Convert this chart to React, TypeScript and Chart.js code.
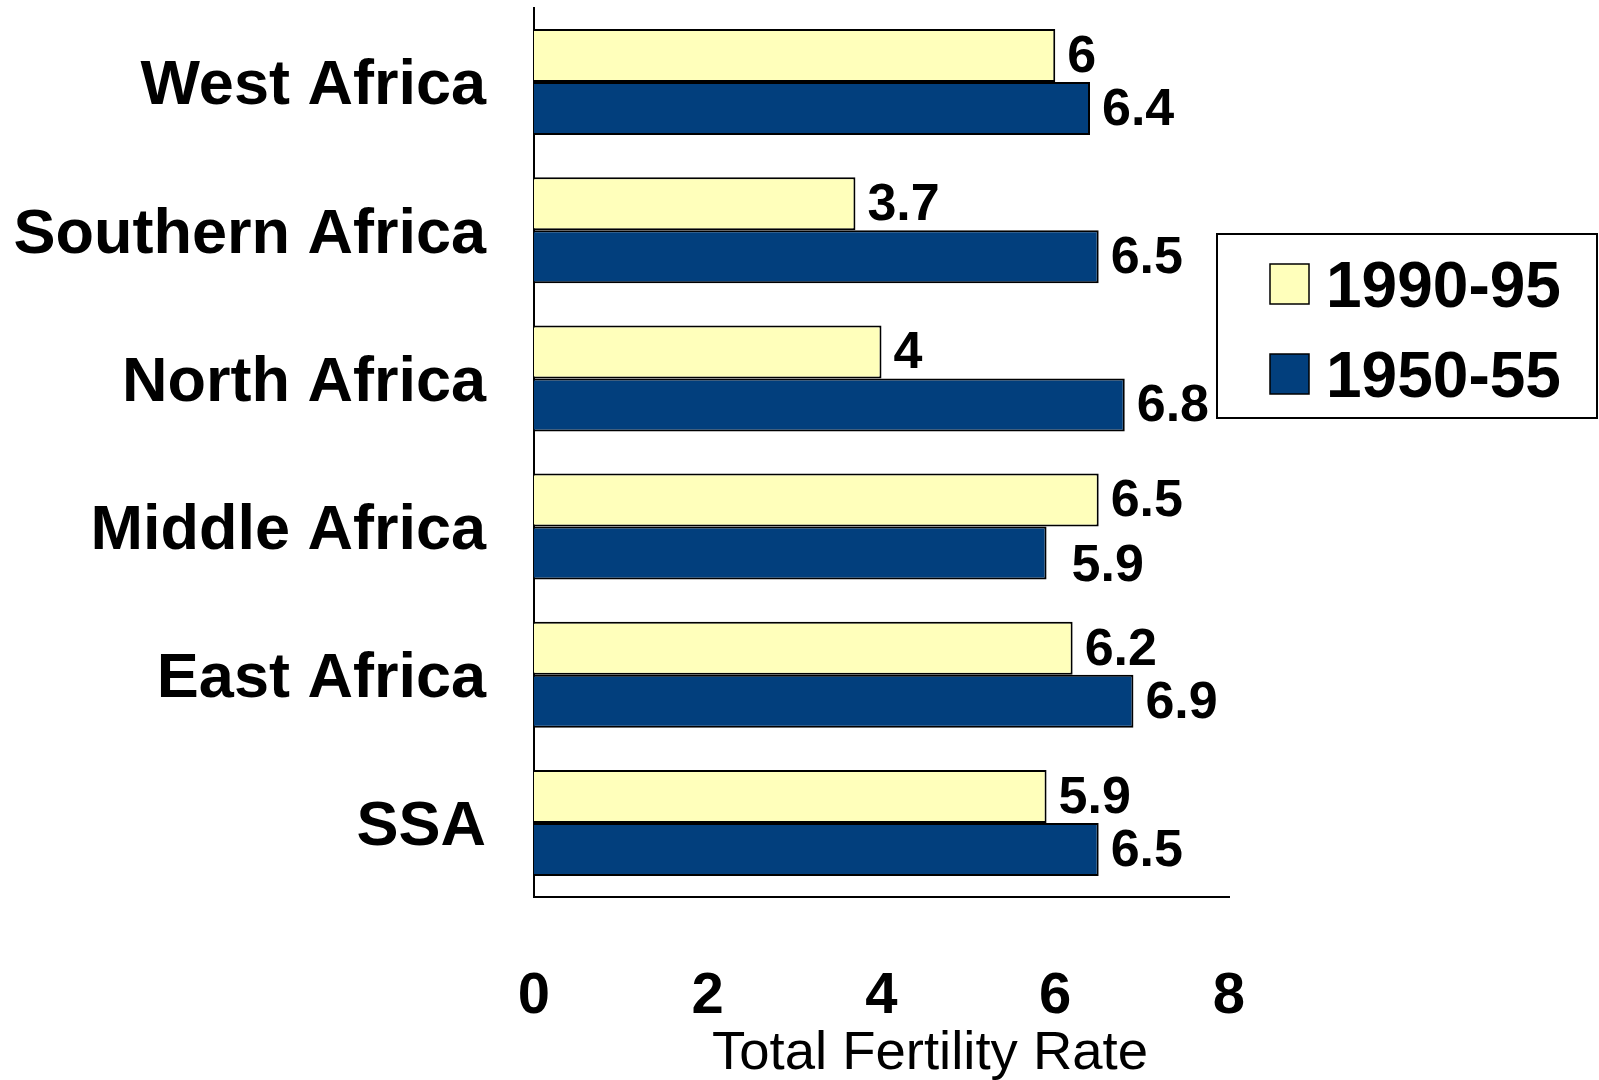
import React, { useEffect, useRef } from "react";
import { Chart, registerables } from "chart.js";

Chart.register(...registerables);

// ---- data ----
const regions = ["West Africa", "Southern Africa", "North Africa", "Middle Africa", "East Africa", "SSA"];
const tfr1990_95 = [6, 3.7, 4, 6.5, 6.2, 5.9];
const tfr1950_55 = [6.4, 6.5, 6.8, 5.9, 6.9, 6.5];
const seriesNames = ["1990-95", "1950-55"];
const xTickValues = [0, 2, 4, 6, 8];
const xTitle = "Total Fertility Rate";

// ---- styles ----
const FONT = "'Liberation Sans', Arial, Helvetica, sans-serif";
const YELLOW = "#FFFFBB";
const BLUE = "#023F7D";

const valueLabelPlugin = {
  id: "valueLabels",
  afterDatasetsDraw(chart: any) {
    const ctx = chart.ctx;
    const nudges: Record<string, [number, number]> = { "1-3": [13, 12] };
    ctx.save();
    ctx.font = `bold 52px ${FONT}`;
    ctx.fillStyle = "#000";
    ctx.textAlign = "left";
    ctx.textBaseline = "middle";
    chart.data.datasets.forEach((ds: any, di: number) => {
      const meta = chart.getDatasetMeta(di);
      meta.data.forEach((bar: any, i: number) => {
        const n = nudges[`${di}-${i}`] || [0, 0];
        ctx.fillText(String(ds.data[i]), bar.x + 12 + n[0], bar.y + 2 + n[1]);
      });
    });
    ctx.restore();
  },
};

const extrasPlugin = {
  id: "extras",
  afterDraw(chart: any) {
    const ctx = chart.ctx;
    ctx.save();
    // x-axis title
    ctx.font = `54.5px ${FONT}`;
    ctx.fillStyle = "#000";
    ctx.textAlign = "center";
    ctx.textBaseline = "alphabetic";
    ctx.fillText(xTitle, 930, 1069);

    // legend box
    ctx.lineWidth = 2;
    ctx.strokeStyle = "#000";
    ctx.fillStyle = "#fff";
    ctx.fillRect(1217, 234, 380, 184);
    ctx.strokeRect(1217, 234, 380, 184);
    const rowsY = [284, 374];
    chart.data.datasets.forEach((ds: any, di: number) => {
      const cy = rowsY[di];
      ctx.fillStyle = ds.backgroundColor;
      ctx.fillRect(1270, cy - 20, 39, 40);
      ctx.lineWidth = 1.5;
      ctx.strokeStyle = "#000";
      ctx.strokeRect(1270, cy - 20, 39, 40);
      ctx.fillStyle = "#000";
      ctx.font = `bold 64px ${FONT}`;
      ctx.textAlign = "left";
      ctx.textBaseline = "alphabetic";
      ctx.fillText(ds.label, 1326, cy + 23);
    });
    ctx.restore();
  },
};

export default function App() {
  const ref = useRef<HTMLCanvasElement | null>(null);

  useEffect(() => {
    if (!ref.current) return;
    const chart = new Chart(ref.current, {
      type: "bar",
      data: {
        labels: regions,
        datasets: [
          {
            label: seriesNames[0],
            data: tfr1990_95,
            backgroundColor: YELLOW,
            borderColor: "#000",
            borderWidth: 2,
            categoryPercentage: 0.715,
            barPercentage: 1.0,
          },
          {
            label: seriesNames[1],
            data: tfr1950_55,
            backgroundColor: BLUE,
            borderColor: "#000",
            borderWidth: 2,
            categoryPercentage: 0.715,
            barPercentage: 1.0,
          },
        ],
      },
      options: {
        indexAxis: "y",
        animation: false,
        responsive: false,
        devicePixelRatio: 1,
        layout: { padding: { left: 0, right: 370, top: 8, bottom: 0 } },
        plugins: {
          legend: { display: false },
          tooltip: { enabled: false },
        },
        scales: {
          x: {
            type: "linear",
            min: 0,
            max: 8,
            afterBuildTicks: (scale: any) => {
              scale.ticks = xTickValues.map((v) => ({ value: v }));
            },
            afterFit: (scale: any) => {
              scale.height = 183;
              scale.paddingLeft = 0;
              scale.paddingRight = 0;
            },
            grid: { display: false, drawTicks: false },
            border: { display: true, color: "#000", width: 2 },
            ticks: {
              color: "#000",
              padding: 65,
              font: { family: FONT, size: 58, weight: "bold" },
              maxRotation: 0,
              autoSkip: false,
            },
          },
          y: {
            type: "category",
            afterFit: (scale: any) => {
              scale.width = 534;
              scale.paddingTop = 0;
              scale.paddingBottom = 0;
            },
            grid: { display: false, drawTicks: false },
            border: { display: true, color: "#000", width: 2 },
            ticks: {
              color: "#000",
              padding: 48,
              labelOffset: 5,
              font: { family: FONT, size: 63, weight: "bold" },
              autoSkip: false,
            },
          },
        },
      },
      plugins: [valueLabelPlugin, extrasPlugin],
    } as any);
    return () => chart.destroy();
  }, []);

  return (
    <div style={{ position: "fixed", left: 0, top: 0, width: 1599, height: 1080, background: "#fff" }}>
      <canvas ref={ref} width={1599} height={1080} style={{ display: "block" }} />
    </div>
  );
}
